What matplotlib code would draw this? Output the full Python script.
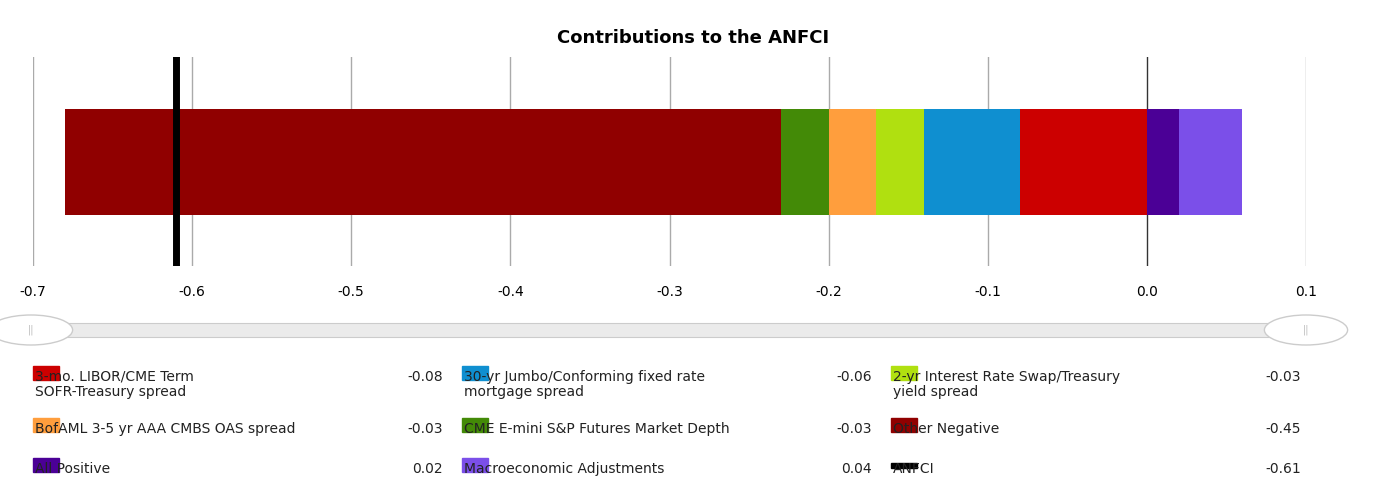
import matplotlib.pyplot as plt
from matplotlib.patches import Rectangle, Circle

names = ["3-mo. LIBOR/CME Term\nSOFR-Treasury spread", "30-yr Jumbo/Conforming fixed rate\nmortgage spread",
         "2-yr Interest Rate Swap/Treasury\nyield spread", "BofAML 3-5 yr AAA CMBS OAS spread",
         "CME E-mini S&P Futures Market Depth", "Other Negative", "All Positive", "Macroeconomic Adjustments"]
values = [-0.08, -0.06, -0.03, -0.03, -0.03, -0.45, 0.02, 0.04]
colors = ["#cc0000", "#0f8fd0", "#b0e010", "#ff9e3d", "#438a07", "#900000", "#4b0096", "#7b4fe9"]
anfci = -0.61
ticks = [-0.7, -0.6, -0.5, -0.4, -0.3, -0.2, -0.1, 0.0, 0.1]

W, H = 1387, 500
fig = plt.figure(figsize=(W / 100, H / 100), dpi=100)
ax = fig.add_axes([33 / W, 1 - 266 / H, 1273 / W, 209 / H])
ax.set_xlim(-0.7, 0.1)
ax.set_ylim(0, 1)
for t in ticks:
    ax.axvline(t, color="#333333" if t == 0 else "#aaaaaa", lw=1, zorder=0)

neg, pos = 0.0, 0.0
for v, c in zip(values, colors):
    if v < 0:
        ax.barh(0.4975, v, left=neg, height=0.507, color=c, zorder=2)
        neg += v
    else:
        ax.barh(0.4975, v, left=pos, height=0.507, color=c, zorder=2)
        pos += v
ax.axvline(anfci, color="black", lw=5, zorder=3)
ax.set_xticks([])
ax.set_yticks([])
for s in ax.spines.values():
    s.set_visible(False)
for t in ticks:
    fig.text((33 + (t + 0.7) / 0.8 * 1273) / W, 1 - 292 / H, "%.1f" % t,
             ha="center", va="center", fontsize=10)

fig.suptitle("Contributions to the ANFCI", y=1 - 29 / H, fontsize=13, fontweight="bold")

# slider
fig.patches.append(Rectangle((31 / W, 1 - 337 / H), 1276 / W, 14 / H, transform=fig.transFigure,
                             facecolor="#ebebeb", edgecolor="#cccccc", lw=0.8))
for hx in [31, 1306]:
    fig.patches.append(Circle((hx / W, 1 - 330 / H), 15 / H, transform=fig.transFigure,
                              facecolor="white", edgecolor="#cccccc", lw=1))
    fig.text(hx / W, 1 - 330 / H, "||", ha="center", va="center", fontsize=7, color="#bbbbbb")

# legend
leg = list(zip(names, values, colors)) + [("ANFCI", anfci, "black")]
cols = [(33, 443), (462, 872), (891, 1301)]
rows = [373, 425, 465]
for i, (n, v, c) in enumerate(leg):
    x0, x1 = cols[i % 3]
    y = rows[i // 3]
    if c == "black":
        fig.patches.append(Rectangle((x0 / W, 1 - (y + 3) / H), 26 / W, 5 / H,
                                     transform=fig.transFigure, color=c))
    else:
        fig.patches.append(Rectangle((x0 / W, 1 - (y + 7) / H), 26 / W, 14 / H,
                                     transform=fig.transFigure, color=c))
    fig.text((x0 + 2) / W, 1 - (y - 3) / H, n, ha="left", va="top", fontsize=10, color="#222222",
             linespacing=1.1)
    fig.text(x1 / W, 1 - (y + 4) / H, "%.2f" % v, ha="right", va="center", fontsize=10, color="#222222")

fig.savefig("out.png", dpi=100)
